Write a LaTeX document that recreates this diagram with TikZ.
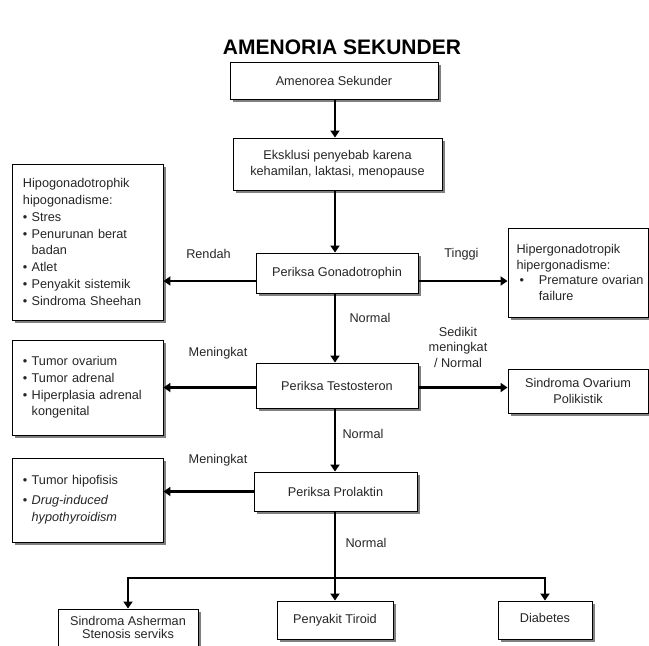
\documentclass[tikz,border=0pt]{standalone}
\usepackage{fontspec}
\setmainfont{Liberation Sans}
\usetikzlibrary{arrows.meta,shadows}

\begin{document}
\begin{tikzpicture}[x=1pt,y=-1pt,
    kotak/.style={draw=black,line width=0.9pt,fill=white,align=center,inner sep=0pt,
        text=black!85,font=\fontsize{12.7}{15.5}\selectfont,
        drop shadow={shadow xshift=2.5pt,shadow yshift=-2.5pt,fill=black!50,opacity=1}},
    daftar/.style={kotak,align=left,text width=129pt,inner xsep=11pt,
        font=\fontsize{12.7}{16.8}\selectfont},
    ket/.style={text=black!85,font=\fontsize{12.7}{15.5}\selectfont,align=center},
    panah/.style={draw=black,line width=2.6pt,-{Triangle[length=7pt,width=9pt]}}]

    \useasboundingbox (0,0) rectangle (649,646);

    \node[font=\bfseries\fontsize{21}{24}\selectfont] (judul) at (342,47) {AMENORIA SEKUNDER};

    % jalur tengah
    \node[kotak,minimum width=208pt,minimum height=37pt] (amen) at (334,80.5) {Amenorea Sekunder};
    \node[kotak,minimum width=209pt,minimum height=52pt] (ekskl) at (337.5,164)
        {Eksklusi penyebab karena\\kehamilan, laktasi, menopause};
    \node[kotak,minimum width=162pt,minimum height=40pt] (gonad) at (337,273) {Periksa Gonadotrophin};
    \node[kotak,minimum width=162pt,minimum height=45pt] (testo) at (337,385.5) {Periksa Testosteron};
    \node[kotak,minimum width=163pt,minimum height=39pt] (prolak) at (335.5,491.5) {Periksa Prolaktin};

    % kiri
    \node[daftar,minimum height=156pt] (hipo) at (87.5,242) {Hipogonadotrophik\\hipogonadisme:\\
        \textbullet\ Stres\\\textbullet\ Penurunan berat\\\hphantom{\textbullet}\ badan\\
        \textbullet\ Atlet\\\textbullet\ Penyakit sistemik\\\textbullet\ Sindroma Sheehan};
    \node[daftar,minimum height=95pt] (tumor1) at (87.5,387.5) {\textbullet\ Tumor ovarium\\
        \textbullet\ Tumor adrenal\\\textbullet\ Hiperplasia adrenal\\\hphantom{\textbullet}\ kongenital};
    \node[daftar,minimum height=84pt] (tumor2) at (87.5,500) {\textbullet\ Tumor hipofisis\\[3pt]
        \textbullet\ \textit{Drug-induced}\\\hphantom{\textbullet}\ \textit{hypothyroidism}};

    % kanan
    \node[kotak,align=left,minimum width=140pt,minimum height=89pt] (hiper) at (578,272.5)
        {\hspace*{4pt}Hipergonadotropik\\\hspace*{4pt}hipergonadisme:\\
        \hspace*{7pt}\textbullet\hspace{15pt}Premature ovarian\\\hspace*{26.4pt}failure};
    \node[kotak,minimum width=140pt,minimum height=44pt] (sop) at (578,391) {Sindroma Ovarium\\Polikistik};

    % bawah
    \node[kotak,minimum width=140pt,minimum height=40pt] (asher) at (128,629)
        {\raisebox{3pt}{\shortstack{Sindroma Asherman\\Stenosis serviks}}};
    \node[kotak,minimum width=116pt,minimum height=38pt] (tiroid) at (335,620) {Penyakit Tiroid};
    \node[kotak,minimum width=94pt,minimum height=38pt] (diab) at (545,620) {\raisebox{4pt}{Diabetes}};

    % keterangan
    \node[ket] (rendah) at (208.5,254) {Rendah};
    \node[ket] (tinggi) at (461.5,254) {Tinggi};
    \node[ket] (normal1) at (370,318) {Normal};
    \node[ket] (naik1) at (218,353) {Meningkat};
    \node[ket] (sedikit) at (458,347) {Sedikit\\meningkat\\/ Normal};
    \node[ket] (normal2) at (363,434) {Normal};
    \node[ket] (naik2) at (218,460) {Meningkat};
    \node[ket] (normal3) at (366,543) {Normal};

    \coordinate (batang) at (335,0);
    \coordinate (cabang) at (335,578);

    \draw[panah] (batang |- amen.south) to (batang |- ekskl.north);
    \draw[panah] (batang |- ekskl.south) to (batang |- gonad.north);
    \draw[panah] (batang |- gonad.south) to (batang |- testo.north);
    \draw[panah] (batang |- testo.south) to (batang |- prolak.north);

    \draw[panah] ([yshift=-8pt]gonad.west) to ([yshift=-8pt]gonad.west -| hipo.east);
    \draw[panah] ([yshift=-8pt]gonad.east) to ([yshift=-8pt]gonad.east -| hiper.west);
    \draw[panah] ([yshift=-2pt]testo.west) to ([yshift=-2pt]testo.west -| tumor1.east);
    \draw[panah] ([yshift=-2pt]testo.east) to ([yshift=-2pt]testo.east -| sop.west);
    \draw[panah] (prolak.west) to (prolak.west -| tumor2.east);

    \draw[panah,line width=2.4pt] (batang |- prolak.south) to (tiroid.north);
    \draw[panah,line width=2pt] (cabang) -| (asher.north);
    \draw[panah,line width=2pt] (cabang) -| (diab.north);

\end{tikzpicture}
\end{document}
